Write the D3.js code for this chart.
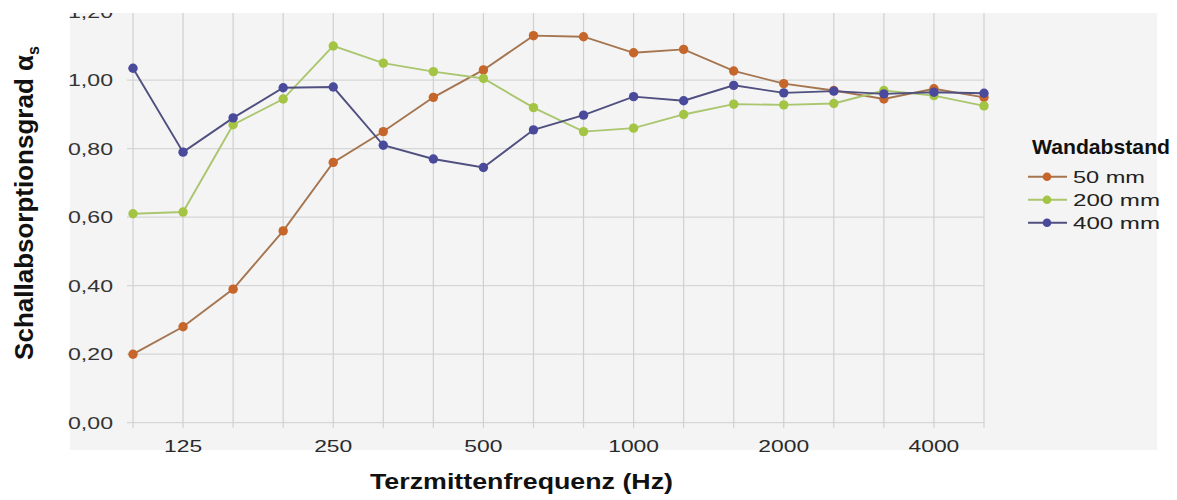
<!DOCTYPE html>
<html><head><meta charset="utf-8">
<script src="https://cdn.jsdelivr.net/npm/d3@7"></script>
<style>body{margin:0;background:#fff}svg{display:block}</style>
</head><body>
<svg id="c" width="1177" height="500"></svg>
<script>
const freqs = ["100","125","160","200","250","315","400","500","630","800","1000","1250","1600","2000","2500","3150","4000","5000"];
const tickLabels = ["125","250","500","1000","2000","4000"];
const yTicks = [0,0.2,0.4,0.6,0.8,1.0,1.2];
const s50  = [0.20,0.28,0.39,0.56,0.76,0.85,0.95,1.03,1.13,1.127,1.08,1.09,1.027,0.99,0.97,0.945,0.975,0.95];
const s200 = [0.61,0.615,0.87,0.945,1.10,1.05,1.025,1.005,0.92,0.85,0.86,0.90,0.93,0.928,0.932,0.97,0.955,0.925];
const s400 = [1.035,0.79,0.89,0.978,0.98,0.81,0.77,0.745,0.855,0.898,0.952,0.94,0.985,0.963,0.968,0.96,0.965,0.962];
const seriesNames = ["50 mm","200 mm","400 mm"];
const lineColors = ["#a57550","#aac66e","#4f4f80"];
const dotColors = ["#c6662a","#a4c543","#4a4a9c"];
const series = [s50,s200,s400];
const FONT = "Liberation Sans, Arial, sans-serif";

const svg = d3.select("#c");
svg.append("rect").attr("x",70).attr("y",0).attr("width",1087).attr("height",450).attr("fill","#f4f4f4");

const x = d3.scalePoint().domain(freqs).range([133,984]);
const y = d3.scaleLinear().domain([0,1.2]).range([422.7,11.7]);
const fmt = v => d3.format(".2f")(v).replace(".",",");

// horizontal grid
svg.append("g").selectAll("line").data(yTicks).join("line")
  .attr("x1",127).attr("x2",984).attr("y1",d=>y(d)).attr("y2",d=>y(d))
  .attr("stroke","#d6d6d6").attr("stroke-width",1.2);
// vertical grid
svg.append("g").selectAll("line").data(freqs).join("line")
  .attr("x1",d=>x(d)).attr("x2",d=>x(d)).attr("y1",y(1.2)).attr("y2",y(0)+5)
  .attr("stroke","#d0d0d0").attr("stroke-width",1.2);

// y labels
svg.append("g").selectAll("text").data(yTicks).join("text")
  .attr("x",113).attr("y",d=>y(d)).attr("dy","0.36em").attr("text-anchor","end")
  .attr("font-family",FONT).attr("font-size",17).attr("fill","#333")
  .attr("textLength",45).attr("lengthAdjust","spacingAndGlyphs").text(fmt);
// x labels
svg.append("g").selectAll("text").data(tickLabels).join("text")
  .attr("x",d=>x(d)).attr("y",452).attr("text-anchor","middle")
  .attr("font-family",FONT).attr("font-size",17).attr("fill","#2a2a2a")
  .attr("textLength",d=>d.length*12.7).attr("lengthAdjust","spacingAndGlyphs").text(d=>d);

// lines
const line = d3.line().x((d,i)=>x(freqs[i])).y(d=>y(d));
series.forEach((s,k)=>{
  svg.append("path").datum(s).attr("d",line).attr("fill","none")
    .attr("stroke",lineColors[k]).attr("stroke-width",1.9);
});
series.forEach((s,k)=>{
  svg.append("g").selectAll("circle").data(s).join("circle")
    .attr("cx",(d,i)=>x(freqs[i])).attr("cy",d=>y(d)).attr("r",4.7)
    .attr("fill",dotColors[k]);
});

// white top strip (image cropped)
svg.append("rect").attr("x",0).attr("y",0).attr("width",1177).attr("height",13).attr("fill","#fff");

// legend
const lg = svg.append("g");
lg.append("text").attr("x",1032).attr("y",154).attr("font-family",FONT)
  .attr("font-weight","bold").attr("font-size",21).attr("fill","#111")
  .attr("textLength",138).attr("lengthAdjust","spacingAndGlyphs").text("Wandabstand");
const legW = [72,87,87];
seriesNames.forEach((n,k)=>{
  const yy = 176.7 + k*23;
  lg.append("line").attr("x1",1028).attr("x2",1067).attr("y1",yy).attr("y2",yy)
    .attr("stroke",lineColors[k]).attr("stroke-width",2);
  lg.append("circle").attr("cx",1047).attr("cy",yy).attr("r",4.3).attr("fill",dotColors[k]);
  lg.append("text").attr("x",1073).attr("y",yy).attr("dy","0.36em")
    .attr("font-family",FONT).attr("font-size",17).attr("fill","#222")
    .attr("textLength",legW[k]).attr("lengthAdjust","spacingAndGlyphs").text(n);
});

// axis titles
svg.append("text").attr("x",370).attr("y",489)
  .attr("font-family",FONT).attr("font-weight","bold").attr("font-size",22)
  .attr("fill","#111").attr("textLength",303).attr("lengthAdjust","spacingAndGlyphs")
  .text("Terzmittenfrequenz (Hz)");
const yt = svg.append("text").attr("transform","translate(33,203) rotate(-90)").attr("text-anchor","middle")
  .attr("font-family",FONT).attr("font-weight","bold").attr("font-size",26)
  .attr("fill","#111");
yt.append("tspan").text("Schallabsorptionsgrad α");
yt.append("tspan").attr("font-size",16).attr("dy",6).text("s");
</script>
</body></html>
